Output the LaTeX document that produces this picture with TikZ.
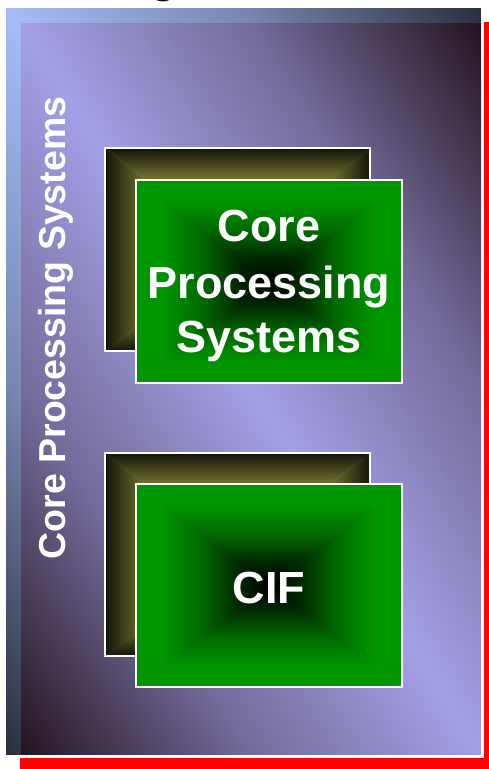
\documentclass[tikz,border=0pt]{standalone}
\usepackage{fontspec}
\setmainfont{Liberation Sans}
\definecolor{flight}{RGB}{165,188,248}
\definecolor{fdark}{RGB}{42,46,58}
\definecolor{plight}{RGB}{164,160,230}
\definecolor{pdark}{RGB}{36,20,30}
\colorlet{fmid}{flight!62!fdark}
\colorlet{pmid}{plight!62!pdark}
\definecolor{gedge}{RGB}{0,150,0}
\definecolor{gmid}{RGB}{0,105,0}
\definecolor{gdeep}{RGB}{0,45,0}
\definecolor{oedge}{RGB}{18,20,10}
\definecolor{olive}{RGB}{115,115,46}
\definecolor{shadowred}{RGB}{255,0,0}
\pgfdeclareverticalshading{frameshade}{100bp}{color(0bp)=(fdark); color(25bp)=(fdark); color(37.5bp)=(fmid); color(50bp)=(flight); color(62.5bp)=(fmid); color(75bp)=(fdark); color(100bp)=(fdark)}
\pgfdeclareverticalshading{panelshade}{100bp}{color(0bp)=(pdark); color(25bp)=(pdark); color(37.5bp)=(pmid); color(50bp)=(plight); color(62.5bp)=(pmid); color(75bp)=(pdark); color(100bp)=(pdark)}
\pgfdeclareverticalshading{greenslice}{100bp}{color(0bp)=(black); color(25bp)=(black); color(37.5bp)=(gdeep); color(50bp)=(gmid); color(65bp)=(gedge); color(100bp)=(gedge)}
\pgfdeclareverticalshading{oliveslice}{100bp}{color(0bp)=(olive); color(60bp)=(olive); color(75bp)=(oedge); color(100bp)=(oedge)}
\newcommand\rectgrad[5]{%
  \shade[shading=#5] (#1,#2) -- (#3,#2) -- ({(#1+#3)/2},{(#2+#4)/2}) -- cycle;
  \shade[shading=#5, shading angle=180] (#1,#4) -- (#3,#4) -- ({(#1+#3)/2},{(#2+#4)/2}) -- cycle;
  \shade[shading=#5, shading angle=90] (#1,#2) -- (#1,#4) -- ({(#1+#3)/2},{(#2+#4)/2}) -- cycle;
  \shade[shading=#5, shading angle=-90] (#3,#2) -- (#3,#4) -- ({(#1+#3)/2},{(#2+#4)/2}) -- cycle;
}
% diagonal gradient: light along top-left/bottom-right diagonal, dark at the other two corners
% args: x0 y0 x1 y1 shading
\newcommand\diaggrad[5]{%
  \begin{scope}
    \clip (#1,#2) rectangle (#3,#4);
    \pgfmathsetmacro\dgcx{(#1+#3)/2}%
    \pgfmathsetmacro\dgcy{(#2+#4)/2}%
    \pgfmathsetmacro\dgsx{(#3-#1)/2/35.3553}%
    \pgfmathsetmacro\dgsy{(#4-#2)/2/35.3553}%
    \begin{scope}[transform canvas={shift={(\dgcx,\dgcy)}, xscale=\dgsx, yscale=\dgsy, rotate=-45}]
      \shade[shading=#5] (-50,-50) rectangle (50,50);
    \end{scope}
  \end{scope}
}
\begin{document}
\begin{tikzpicture}[x=1pt,y=-1pt,
  boxtext/.style={text=white, font=\fontsize{45}{50}\selectfont\bfseries, anchor=base, inner sep=0pt},
  sidetext/.style={text=white, font=\fontsize{37.5}{45}\selectfont\bfseries, anchor=base, inner sep=0pt, rotate=90}]
\useasboundingbox (0,0) rectangle (489,769);
% cut-off title fragment
\node[text=black, font=\fontsize{44}{50}\selectfont\bfseries, anchor=base west, inner sep=0pt] (gfrag) at (150,-7.5) {g};
% red shadow
\fill[shadowred] (19.5,21.5) rectangle (497.5,771);
% outer frame
\diaggrad{4.5}{6.5}{482.5}{756}{frameshade}
\draw[white, line width=3pt] (4.5,6.5) rectangle (482.5,756);
% inner panel
\diaggrad{21}{23}{481}{754.5}{panelshade}
% side label
\node[sidetext] (side) at (65,328) {Core Processing Systems};
% box 1 back
\rectgrad{105}{148}{370}{351}{oliveslice}
\draw[white, line width=2pt] (105,148) rectangle (370,351);
% box 1 front
\rectgrad{136}{180}{402}{383}{greenslice}
\draw[white, line width=2pt] (136,180) rectangle (402,383);
\node[boxtext] (core1) at (269,241.7) {Core};
\node[boxtext] (core2) at (269,298.3) {Processing};
\node[boxtext] (core3) at (269,352) {Systems};
% box 2 back
\rectgrad{105}{453}{370}{656}{oliveslice}
\draw[white, line width=2pt] (105,453) rectangle (370,656);
% box 2 front
\rectgrad{136}{484}{402}{687}{greenslice}
\draw[white, line width=2pt] (136,484) rectangle (402,687);
\node[boxtext] (cif) at (269,603) {CIF};
\end{tikzpicture}
\end{document}
